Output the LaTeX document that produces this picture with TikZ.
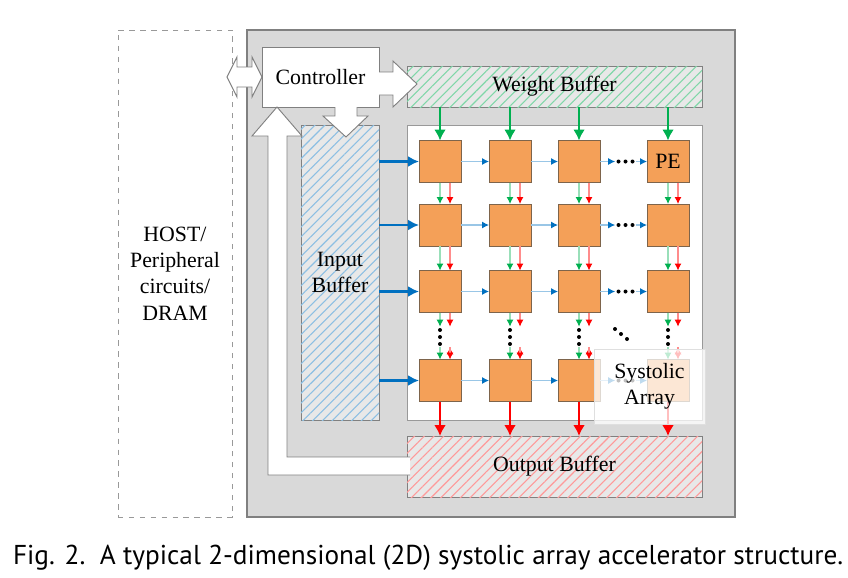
\documentclass[tikz,border=0pt]{standalone}
\usepackage{fontspec}
\setmainfont{Liberation Serif}
\newfontfamily\capfont{PT Sans}
\usetikzlibrary{arrows.meta,patterns.meta}
\definecolor{accgray}{RGB}{217,217,217}
\definecolor{bordgray}{RGB}{128,128,128}
\definecolor{bufgray}{RGB}{232,232,232}
\definecolor{peorange}{RGB}{244,160,88}
\definecolor{peedge}{RGB}{125,100,75}
\definecolor{wgreen}{RGB}{0,176,80}
\definecolor{iblue}{RGB}{0,112,192}
\definecolor{ored}{RGB}{255,0,0}
\begin{document}
\begin{tikzpicture}[x=0.55pt,y=-0.55pt,font=\fontsize{12}{14.5}\selectfont,
  box/.style={rectangle,draw=bordgray,inner sep=0pt,outer sep=0pt,align=center},
  pe/.style={box,draw=peedge,fill=peorange,minimum size=23.1pt},
  buf/.style={box,fill=bufgray,postaction={pattern={Lines[angle=45,distance=3.8pt,line width=0.6pt]},pattern color=#1}},
  blockarrow/.style={draw=bordgray,fill=white,line width=0.5pt},
  wthick/.style={draw=wgreen,line width=1.3pt,-{Latex[length=6pt,width=6.5pt]}},
  ithick/.style={draw=iblue,line width=1.3pt,-{Latex[length=6pt,width=6pt]}},
  othick/.style={draw=ored,line width=1.3pt,-{Latex[length=6pt,width=6.5pt]}},
  hthin/.style={draw=iblue!40,line width=0.6pt,-{Latex[length=3.8pt,width=3.8pt,color=iblue]}},
  gthin/.style={draw=wgreen!40,line width=0.6pt,-{Latex[length=3.8pt,width=3.8pt,color=wgreen]}},
  rthin/.style={draw=ored!45,line width=0.6pt,-{Latex[length=3.8pt,width=3.8pt,color=ored]}},
  hdots/.style={inner sep=0pt,minimum width=11pt,minimum height=3pt,
    path picture={\foreach \k in {-1,0,1}{\fill ([xshift=\k*3.85pt]path picture bounding box.center) circle (1.1pt);}}},
  vdots/.style={inner sep=0pt,minimum width=3pt,minimum height=11pt,
    path picture={\foreach \k in {-1,0,1}{\fill ([yshift=\k*3.85pt]path picture bounding box.center) circle (1.1pt);}}},
  ddots/.style={inner sep=0pt,minimum width=10pt,minimum height=9pt,
    path picture={\foreach \k in {-1,0,1}{\fill ([xshift=\k*3.3pt,yshift=-\k*2.75pt]path picture bounding box.center) circle (1.1pt);}}}]
\useasboundingbox (0,0) rectangle (848,577);

% host and accelerator
\node[box,draw=bordgray!80,dashed,fill=white,minimum width=62.7pt,minimum height=267.85pt] (host) at (175,273.5) {HOST/\\Peripheral\\circuits/\\DRAM};
\node[box,fill=accgray,line width=0.6pt,minimum width=268.4pt,minimum height=267.85pt] (acc) at (491,273.5) {};

% buffers
\node[buf=wgreen!50,minimum width=162.25pt,minimum height=22.55pt] (wbuf) at (554.5,86.5) {Weight Buffer};
\node[buf=iblue!45,minimum width=42.9pt,minimum height=162.25pt] (ibuf) at (340,272.5) {Input\\Buffer};
\node[box,fill=white,draw=bordgray!80,minimum width=162.25pt,minimum height=162.25pt] (arr) at (554.5,272.5) {};
\node[buf=ored!40,minimum width=162.25pt,minimum height=33.55pt] (obuf) at (554.5,466.5) {Output Buffer};

\node[box,fill=white,minimum width=64.35pt,minimum height=33pt] (ctrl) at (320.5,77) {Controller};

% block arrows
\draw[blockarrow] (227,77) -- (237,57) -- (237,67) -- (252,67) -- (252,57) -- (262,77) -- (252,97) -- (252,87) -- (237,87) -- (237,97) -- cycle;
\draw[blockarrow] (379,72) -- (393,72) -- (393,61) -- (417,84) -- (393,107) -- (393,95) -- (379,95);
\draw[blockarrow] (335,107) -- (335,116) -- (323,116) -- (346,137) -- (368,116) -- (357,116) -- (357,107);
\draw[blockarrow] (410,457) -- (287,457) -- (287,136) -- (302,136) -- (277,107) -- (252,136) -- (268,136) -- (268,475) -- (410,475);

% PEs
\node[pe] (pe11) at (440,161.5) {};
\node[pe] (pe12) at (510,161.5) {};
\node[pe] (pe13) at (579,161.5) {};
\node[pe] (pe14) at (668,161.5) {PE};
\node[pe] (pe21) at (440,225) {};
\node[pe] (pe22) at (510,225) {};
\node[pe] (pe23) at (579,225) {};
\node[pe] (pe24) at (668,225) {};
\node[pe] (pe31) at (440,291.5) {};
\node[pe] (pe32) at (510,291.5) {};
\node[pe] (pe33) at (579,291.5) {};
\node[pe] (pe34) at (668,291.5) {};
\node[pe] (pe41) at (440,380.5) {};
\node[pe] (pe42) at (510,380.5) {};
\node[pe] (pe43) at (579,380.5) {};
\node[pe] (pe44) at (668,380.5) {};

% dots
\node[hdots] (hd1) at (625.5,161.5) {};
\node[hdots] (hd2) at (625.5,225) {};
\node[hdots] (hd3) at (625.5,291.5) {};
\node[hdots] (hd4) at (625.5,380.5) {};
\node[vdots] (vd1) at (440,337) {};
\node[vdots] (vd2) at (510,337) {};
\node[vdots] (vd3) at (579,337) {};
\node[vdots] (vd4) at (668,337) {};
\node[ddots] (dd) at (621,334) {};

% weights in, inputs in, outputs out
\draw[wthick] (wbuf.south -| pe11) -- (pe11);
\draw[wthick] (wbuf.south -| pe12) -- (pe12);
\draw[wthick] (wbuf.south -| pe13) -- (pe13);
\draw[wthick] (wbuf.south -| pe14) -- (pe14);
\draw[ithick] (ibuf.east |- pe11) -- (pe11);
\draw[ithick] (ibuf.east |- pe21) -- (pe21);
\draw[ithick] (ibuf.east |- pe31) -- (pe31);
\draw[ithick] (ibuf.east |- pe41) -- (pe41);
\draw[othick] (pe41) -- (obuf.north -| pe41);
\draw[othick] (pe42) -- (obuf.north -| pe42);
\draw[othick] (pe43) -- (obuf.north -| pe43);
\draw[othick] (pe44) -- (obuf.north -| pe44);

% horizontal flow
\draw[hthin] (pe11) edge (pe12) (pe12) edge (pe13) (pe13) edge (hd1) (hd1) edge (pe14);
\draw[hthin] (pe21) edge (pe22) (pe22) edge (pe23) (pe23) edge (hd2) (hd2) edge (pe24);
\draw[hthin] (pe31) edge (pe32) (pe32) edge (pe33) (pe33) edge (hd3) (hd3) edge (pe34);
\draw[hthin] (pe41) edge (pe42) (pe42) edge (pe43) (pe43) edge (hd4) (hd4) edge (pe44);

% vertical flow
\draw[gthin] (pe11) edge (pe21) (pe21) edge (pe31) (pe31) edge (vd1) (vd1) edge (pe41);
\draw[gthin] (pe12) edge (pe22) (pe22) edge (pe32) (pe32) edge (vd2) (vd2) edge (pe42);
\draw[gthin] (pe13) edge (pe23) (pe23) edge (pe33) (pe33) edge (vd3) (vd3) edge (pe43);
\draw[gthin] (pe14) edge (pe24) (pe24) edge (pe34) (pe34) edge (vd4) (vd4) edge (pe44);
\draw[rthin] ([xshift=5.5pt]pe11.south) edge ([xshift=5.5pt]pe21.north) ([xshift=5.5pt]pe21.south) edge ([xshift=5.5pt]pe31.north)
  ([xshift=5.5pt]pe31.south) edge ([xshift=5.5pt]vd1.north) ([xshift=5.5pt]vd1.south) edge ([xshift=5.5pt]pe41.north);
\draw[rthin] ([xshift=5.5pt]pe12.south) edge ([xshift=5.5pt]pe22.north) ([xshift=5.5pt]pe22.south) edge ([xshift=5.5pt]pe32.north)
  ([xshift=5.5pt]pe32.south) edge ([xshift=5.5pt]vd2.north) ([xshift=5.5pt]vd2.south) edge ([xshift=5.5pt]pe42.north);
\draw[rthin] ([xshift=5.5pt]pe13.south) edge ([xshift=5.5pt]pe23.north) ([xshift=5.5pt]pe23.south) edge ([xshift=5.5pt]pe33.north)
  ([xshift=5.5pt]pe33.south) edge ([xshift=5.5pt]vd3.north) ([xshift=5.5pt]vd3.south) edge ([xshift=5.5pt]pe43.north);
\draw[rthin] ([xshift=5.5pt]pe14.south) edge ([xshift=5.5pt]pe24.north) ([xshift=5.5pt]pe24.south) edge ([xshift=5.5pt]pe34.north)
  ([xshift=5.5pt]pe34.south) edge ([xshift=5.5pt]vd4.north) ([xshift=5.5pt]vd4.south) edge ([xshift=5.5pt]pe44.north);

% label over the corner
\node[box,draw=bordgray!25,fill=white,fill opacity=0.75,text opacity=1,minimum width=61.05pt,minimum height=41.25pt] (lbl) at (649.5,386.5) {Systolic\\Array};

\node[anchor=base west,inner sep=0pt,font=\capfont\fontsize{15}{17}\selectfont] (cap) at (12.7,564.7) {Fig. 2.\ \ A typical 2-dimensional (2D) systolic array accelerator structure.};
\end{tikzpicture}
\end{document}
